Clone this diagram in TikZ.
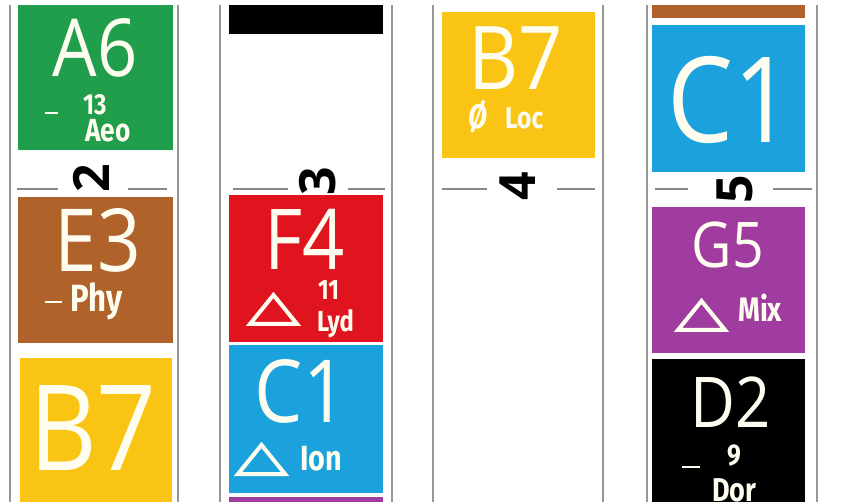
\documentclass[tikz,border=0pt]{standalone}
\usepackage{fontspec}
\setmainfont{Open Sans}
\newfontfamily\chordfont[FakeStretch=0.88]{Open Sans}
\newfontfamily\modefont[FakeStretch=0.82]{Fira Sans}
\definecolor{cream}{RGB}{255,253,240}
\definecolor{railgray}{RGB}{150,150,150}
\definecolor{tickgray}{RGB}{135,135,135}
\definecolor{aeogreen}{RGB}{33,158,76}
\definecolor{phybrown}{RGB}{175,98,42}
\definecolor{locyellow}{RGB}{249,196,19}
\definecolor{lydred}{RGB}{224,20,30}
\definecolor{ionblue}{RGB}{27,161,219}
\definecolor{mixpurple}{RGB}{160,60,160}
\definecolor{dorblack}{RGB}{0,0,0}
\tikzset{
  rail/.style={railgray,line width=1.6pt},
  tick/.style={tickgray,line width=1.1pt},
  root/.style={text=cream,anchor=base,inner sep=0pt,
    font=\chordfont\fontsize{#1pt}{#1pt}\selectfont},
  mode/.style={text=cream,anchor=base west,inner sep=0pt,
    font=\modefont\bfseries\fontsize{#1pt}{#1pt}\selectfont},
  beatnum/.style={rotate=90,inner sep=0pt,
    font=\bfseries\fontsize{50pt}{50pt}\selectfont},
  minorbar/.style={cream,line width=2.6pt},
  majtri/.style={draw=cream,line width=4pt,line join=miter}
}

\begin{document}
\begin{tikzpicture}[x=1pt,y=-1pt]
  \useasboundingbox[fill=white] (0,0) rectangle (859,502);
  \foreach \x in {10,178,220,392,433,603,647,817}
    \draw[rail] (\x,5) -- (\x,502);
  % chord boxes
  \foreach \xa/\ya/\xb/\yb/\c in {18/5/173/150/aeogreen, 18/197/173/343/phybrown,
      20/358/172/502/locyellow, 229/5/383/34/dorblack, 229/195/383/342/lydred,
      229/345/383/493/ionblue, 229/497/383/502/mixpurple, 442/12/595/158/locyellow,
      652/5/805/18/phybrown, 652/25/805/172/ionblue, 652/207/805/353/mixpurple,
      652/359/805/502/dorblack}
    \fill[\c] (\xa,\ya) rectangle (\xb,\yb);
  % beat markers
  \foreach \xa/\xb in {17/58,128/167,233/288,348/385,442/487,557/595,655/688,773/812}
    \draw[tick] (\xa,189) -- (\xb,189);
  \foreach \nm/\x/\y/\t in {beat2/91/178/2,beat3/318/181/3,beat4/518/186/4,beat5/735/189/5}
    \node[beatnum] (\nm) at (\x,\y) {\t};
  % roots
  \foreach \nm/\x/\y/\s/\t in {a6/95/77/80/A6, e3/98/272/87/E3, b7a/93/470/119/B7,
      f4/305/270/84/F4, c1a/301/422/87/C1, b7b/516/90/88/B7, c1b/730/143/119/C1,
      g5/728/268/63/G5, d2/731/427/70/D2}
    \node[root=\s] (\nm) at (\x,\y) {\t};
  % modes
  \foreach \nm/\x/\y/\s/\t in {ext13/83/115/29/13, aeo/85/142/32/Aeo, phy/70/312/38/Phy,
      ext11/318/300/28/11, lyd/317/332/29/Lyd, ion/300/470/35/Ion, loc/505/129/30/Loc,
      mix/738/322/34/Mix, ext9/727/465/30/9, dor/712/501/33/Dor}
    \node[mode=\s] (\nm) at (\x,\y) {\t};
  \node[mode=26,font=\modefont\bfseries\itshape\fontsize{34pt}{34pt}\selectfont]
    (hdim) at (468,129) {Ø};
  \foreach \xa/\xb/\y in {45/58/113, 45/62/302, 682/700/467}
    \draw[minorbar] (\xa,\y) -- (\xb,\y);
  \foreach \x/\y in {250/324, 238/474, 678/330}
    \draw[majtri] (\x,\y) -- ++(47,0) -- ++(-23.5,-29) -- cycle;
\end{tikzpicture}
\end{document}
